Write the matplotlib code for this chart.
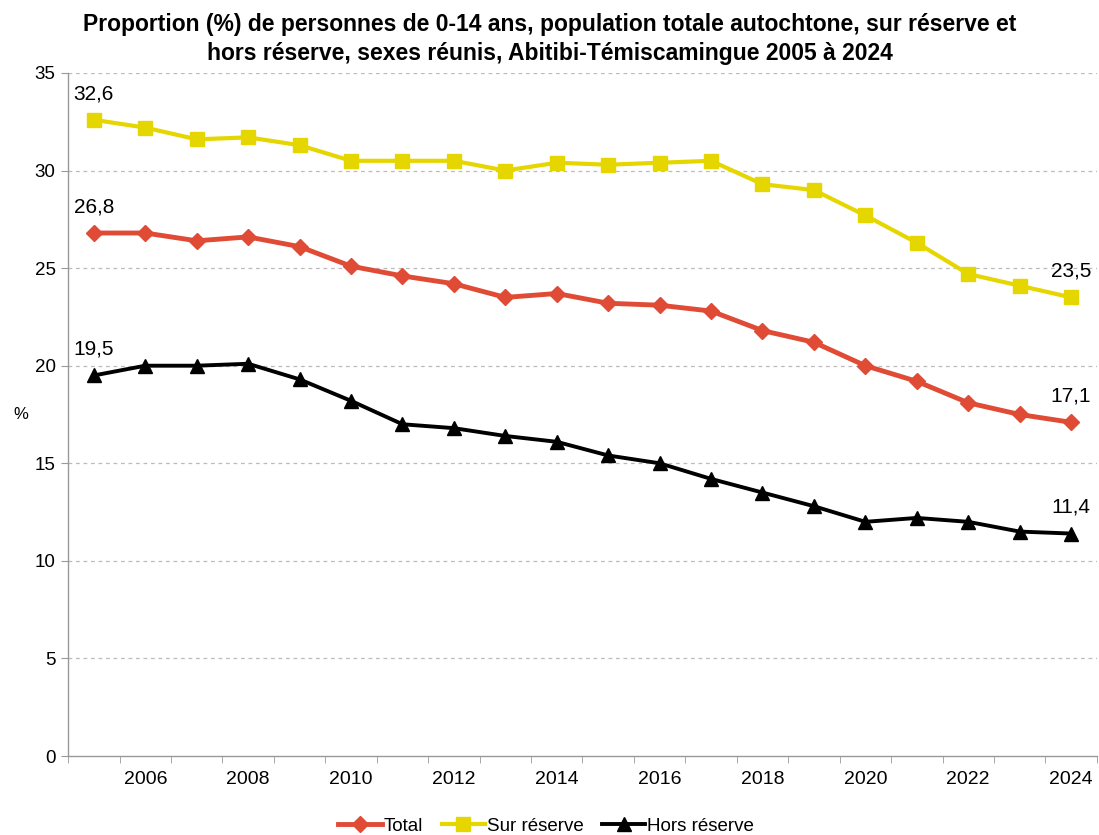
import matplotlib
matplotlib.use("Agg")
import matplotlib.pyplot as plt
import numpy as np

plt.rcParams['font.family'] = ['Liberation Sans', 'DejaVu Sans']

years = list(range(2005, 2025))
total = [26.8, 26.8, 26.4, 26.6, 26.1, 25.1, 24.6, 24.2, 23.5, 23.7,
         23.2, 23.1, 22.8, 21.8, 21.2, 20.0, 19.2, 18.1, 17.5, 17.1]
sur_reserve = [32.6, 32.2, 31.6, 31.7, 31.3, 30.5, 30.5, 30.5, 30.0, 30.4,
               30.3, 30.4, 30.5, 29.3, 29.0, 27.7, 26.3, 24.7, 24.1, 23.5]
hors_reserve = [19.5, 20.0, 20.0, 20.1, 19.3, 18.2, 17.0, 16.8, 16.4, 16.1,
                15.4, 15.0, 14.2, 13.5, 12.8, 12.0, 12.2, 12.0, 11.5, 11.4]
series_names = ["Total", "Sur réserve", "Hors réserve"]
title = ("Proportion (%) de personnes de 0-14 ans, population totale autochtone, sur réserve et\n"
         "hors réserve, sexes réunis, Abitibi-Témiscamingue 2005 à 2024")

fig = plt.figure(figsize=(10.99, 8.35), dpi=100)
ax = fig.add_axes([0.062, 0.0946, 0.936, 0.818])

x = np.arange(len(years))
c_red = "#E04B35"
c_yel = "#E6D600"
ax.plot(x, total, color=c_red, lw=3.5, marker="D", ms=8.5, label=series_names[0], zorder=3)
ax.plot(x, sur_reserve, color=c_yel, lw=3, marker="s", ms=9.5, label=series_names[1], zorder=3)
ax.plot(x, hors_reserve, color="black", lw=2.8, marker="^", ms=10, label=series_names[2], zorder=3)

for s in (total, sur_reserve, hors_reserve):
    for i in (0, len(s) - 1):
        ax.annotate(f"{s[i]:.1f}".replace(".", ","), (x[i], s[i]), xytext=(0, 12),
                    textcoords="offset points", ha="center", va="bottom", fontsize=15)

ax.set_xlim(-0.5, len(years) - 0.5)
ax.set_ylim(0, 35)
ax.set_yticks(np.arange(0, 36, 5))
ax.set_xticks(x[1::2])
ax.set_xticklabels([str(y) for y in years[1::2]], fontsize=14)
ax.set_xticks(np.arange(-0.5, len(years), 1), minor=True)
ax.tick_params(axis="x", which="major", length=0, pad=11)
ax.tick_params(axis="x", which="minor", length=5, color="#999999")
ax.tick_params(axis="y", length=5, color="#999999", labelsize=13.5, pad=4)
for v in range(5, 36, 5):
    ax.axhline(v, color="#BBBBBB", lw=0.9, ls=(0, (3, 3)), zorder=1)
for sp in ("top", "right"):
    ax.spines[sp].set_visible(False)
for sp in ("left", "bottom"):
    ax.spines[sp].set_color("#999999")
    ax.spines[sp].set_linewidth(1)

fig.text(0.012, 0.503, "%", fontsize=12, ha="left", va="center")

fig.suptitle(title, fontsize=16.5, fontweight="bold", y=0.985, va="top", linespacing=1.38)

leg = fig.legend(loc="lower center", bbox_to_anchor=(0.497, -0.02), ncol=3, frameon=False,
                 fontsize=13.5, handlelength=2.3, columnspacing=1.0, handletextpad=0.1)

fig.savefig("out.png", dpi=100)
